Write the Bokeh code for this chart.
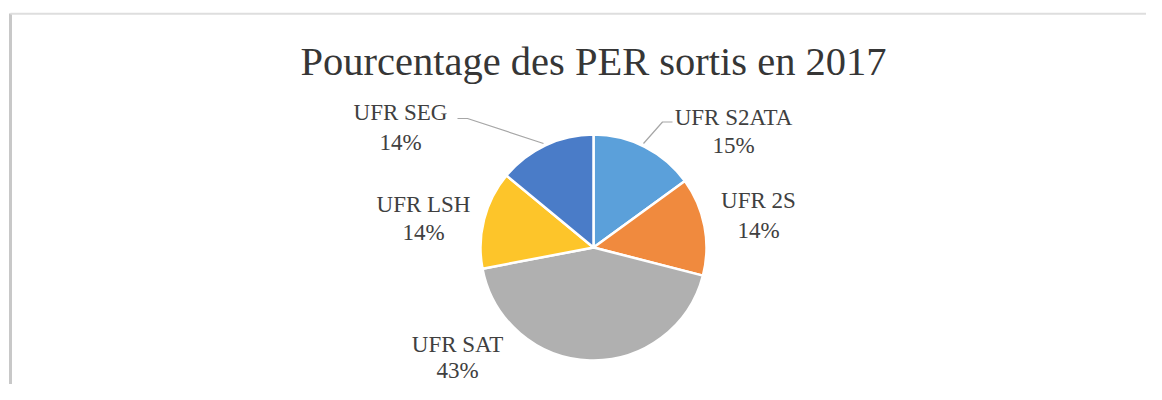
import math
from bokeh.plotting import figure
from bokeh.models import Range1d, ColumnDataSource
from bokeh.core.properties import value
from bokeh.embed import file_html
from bokeh.resources import INLINE

# ---- data ----
title_text = "Pourcentage des PER sortis en 2017"
categories = ["UFR S2ATA", "UFR 2S", "UFR SAT", "UFR LSH", "UFR SEG"]
percents = [15, 14, 43, 14, 14]
colors = ["#5BA0DA", "#F08A3E", "#B0B0B0", "#FDC52A", "#4A7CC8"]

# ---- layout (pixels from the figure's top-left corner) ----
W, H = 1146, 384


def Y(sy):
    # screen y (from top) -> data y
    return H - sy


cx, cy, R = 593, 247, 113
FONT = value("Liberation Serif")
TITLE_SIZE = 40.5
LABEL_SIZE = 23
BASE_FIX = 0.35  # empirical shift of rendered alphabetic baseline (x font size)

p = figure(width=W, height=H, output_backend="svg", toolbar_location=None,
           x_range=Range1d(0, W), y_range=Range1d(0, H),
           min_border=0, min_border_left=0, min_border_right=0,
           min_border_top=0, min_border_bottom=0)
p.axis.visible = False
p.grid.visible = False
p.outline_line_color = None
p.background_fill_color = "white"
p.border_fill_color = "white"

# frame of the original picture
p.line(x=[10, 10], y=[Y(13), Y(H)], line_color="#c8c8c8", line_width=3)
p.line(x=[10, W], y=[Y(13.3), Y(13.3)], line_color="#dedede", line_width=2)

# ---- pie wedges, clockwise from 12 o'clock ----
total = float(sum(percents))
starts, ends = [], []
acc = 0.0
for v in percents:
    a0 = acc / total
    acc += v
    a1 = acc / total
    starts.append(math.pi / 2 - 2 * math.pi * a1)
    ends.append(math.pi / 2 - 2 * math.pi * a0)

src = ColumnDataSource(dict(start=starts, end=ends, color=colors, cat=categories))
p.wedge(x=cx, y=Y(cy), radius=R, start_angle="start", end_angle="end",
        fill_color="color", line_color="white", line_width=2.5, source=src)

# ---- leader lines ----
lead_col = "#a6a6a6"
p.line(x=[457, 467, 543], y=[Y(118), Y(118), Y(143)], line_color=lead_col, line_width=1.2)
p.line(x=[672, 662, 643], y=[Y(121.5), Y(121.5), Y(143)], line_color=lead_col, line_width=1.2)

# ---- title ----
p.text(x=[593], y=[Y(75.5 - BASE_FIX * TITLE_SIZE)], text=[title_text], text_align="center",
       text_baseline="alphabetic", text_font=FONT, text_font_size=f"{TITLE_SIZE}px",
       text_color="#363636")

# ---- data labels (layout positions: centre x, first-line baseline, line gap) ----
label_pos = [(733, 125, 28), (758, 208, 30), (457, 352, 26), (423, 212, 28), (400, 120, 30)]
fix = BASE_FIX * LABEL_SIZE
lx = [pos[0] for pos in label_pos]
ly1 = [Y(pos[1] - fix) for pos in label_pos]
ly2 = [Y(pos[1] + pos[2] - fix) for pos in label_pos]
pct_text = [f"{v}%" for v in percents]

p.text(x=lx, y=ly1, text=categories, text_align="center", text_baseline="alphabetic",
       text_font=FONT, text_font_size=f"{LABEL_SIZE}px", text_color="#404040")
p.text(x=lx, y=ly2, text=pct_text, text_align="center", text_baseline="alphabetic",
       text_font=FONT, text_font_size=f"{LABEL_SIZE}px", text_color="#404040")

open("out.html", "w").write(file_html(p, INLINE))
